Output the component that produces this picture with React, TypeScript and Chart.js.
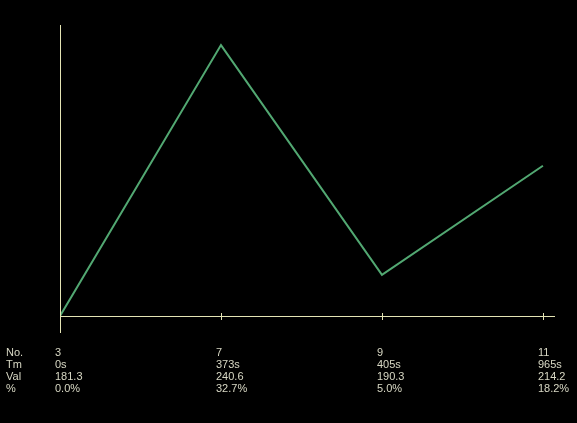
import React, { useEffect, useRef } from "react";
import { Chart, registerables } from "chart.js";

Chart.register(...registerables);

const rowLabels = ["No.", "Tm", "Val", "%"];
const pointNos = ["3", "7", "9", "11"];
const times = ["0s", "373s", "405s", "965s"];
const values = [181.3, 240.6, 190.3, 214.2];
const percents = ["0.0%", "32.7%", "5.0%", "18.2%"];

const W = 577;
const H = 423;

export default function App() {
  const ref = useRef<HTMLCanvasElement | null>(null);

  useEffect(() => {
    const canvas = ref.current;
    if (!canvas) return;
    const axisColor = "#e4e4b4";
    const textColor = "#d8d8c4";

    const axesPlugin = {
      id: "customAxes",
      afterDatasetsDraw(chart: any) {
        const ctx = chart.ctx;
        const xs = chart.scales.x;
        const ys = chart.scales.y;
        const area = chart.chartArea;
        const x0 = xs.getPixelForValue(0);
        const yBase = ys.getPixelForValue(values[0]);
        ctx.save();
        ctx.strokeStyle = axisColor;
        ctx.lineWidth = 1;
        ctx.beginPath();
        ctx.moveTo(Math.round(x0) + 0.5, area.top);
        ctx.lineTo(Math.round(x0) + 0.5, yBase + 17);
        ctx.moveTo(x0, Math.round(yBase) + 0.5);
        ctx.lineTo(area.right, Math.round(yBase) + 0.5);
        for (let i = 1; i < pointNos.length; i++) {
          const px = Math.round(xs.getPixelForValue(i)) + 0.5;
          ctx.moveTo(px, yBase - 3);
          ctx.lineTo(px, yBase + 4);
        }
        ctx.stroke();

        ctx.fillStyle = textColor;
        ctx.font = "11px 'Liberation Sans', Arial, sans-serif";
        ctx.textBaseline = "middle";
        ctx.textAlign = "left";
        const rowY0 = yBase + 37;
        const rows = [pointNos, times, values.map((v) => v.toFixed(1)), percents];
        rowLabels.forEach((lab, r) => {
          ctx.fillText(lab, 6, rowY0 + r * 12);
        });
        for (let i = 0; i < pointNos.length; i++) {
          const px = xs.getPixelForValue(i) - 5;
          rows.forEach((row, r) => {
            ctx.fillText(String(row[i]), px, rowY0 + r * 12);
          });
        }
        ctx.restore();
      },
    };

    const chart = new Chart(canvas, {
      type: "line",
      data: {
        datasets: [
          {
            data: values.map((v, i) => ({ x: i, y: v })),
            borderColor: "#52a872",
            borderWidth: 2,
            pointRadius: 0,
            tension: 0,
            fill: false,
          },
        ],
      },
      options: {
        responsive: false,
        animation: false,
        layout: { padding: { left: 60, right: 22, top: 25, bottom: 107 } },
        plugins: { legend: { display: false }, tooltip: { enabled: false } },
        scales: {
          x: { type: "linear", min: 0, max: 3.075, display: false },
          y: { type: "linear", min: 181.3, max: 245, display: false },
        },
      },
      plugins: [axesPlugin],
    });
    return () => chart.destroy();
  }, []);

  return (
    <div style={{ position: "fixed", left: 0, top: 0, width: W, height: H, background: "#000" }}>
      <canvas ref={ref} width={W} height={H} style={{ display: "block", width: W, height: H }} />
    </div>
  );
}
